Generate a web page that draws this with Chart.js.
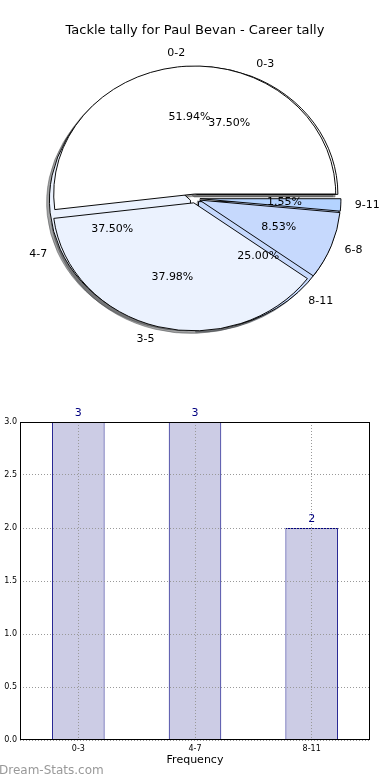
<!DOCTYPE html>
<html>
<head>
<meta charset="utf-8">
<script src="https://cdn.jsdelivr.net/npm/chart.js@4.4.1/dist/chart.umd.min.js"></script>
<style>
  body { margin: 0; background: #fff; width: 390px; height: 780px; position: relative; overflow: hidden; font-family: "DejaVu Sans", sans-serif; }
  #pie { position: absolute; left: 0; top: 0; }
  #bar { position: absolute; left: 0; top: 400px; }
  #title { position: absolute; left: 0; top: 21px; width: 390px; text-align: center; font-size: 13px; line-height: 18px; color: #000; }
  #mark { position: absolute; left: -1px; top: 762px; font-size: 12px; line-height: 16px; color: #999; }
</style>
</head>
<body>
<canvas id="pie" width="390" height="400"></canvas>
<canvas id="bar" width="390" height="380"></canvas>
<div id="title">Tackle tally for Paul Bevan - Career tally</div>
<div id="mark">Dream-Stats.com</div>
<script>
// tackle counts per game, fine bands
const tallyLabels = ["0-2", "3-5", "6-8", "9-11"];
const tallyValues = [67, 49, 11, 2];
// coarse bands
const bandLabels = ["0-3", "4-7", "8-11"];
const bandValues = [3, 3, 2];

const pieColors = ["#ffffff", "#ebf2fe", "#c6d9fd", "#b4d3ff"];
const yTicks = [0, 0.5, 1, 1.5, 2, 2.5, 3];

const SQUASH = 0.908;   // pie is drawn as an ellipse
const EXPLODE = 0.035;  // wedge offset, fraction of radius
const SHADOW = 0.02;    // shadow shift, fraction of radius

function shadowColor(hex) {
  const n = parseInt(hex.slice(1), 16);
  const r = Math.round(((n >> 16) & 255) * 0.3);
  const g = Math.round(((n >> 8) & 255) * 0.3);
  const b = Math.round((n & 255) * 0.3);
  return "rgba(" + r + "," + g + "," + b + ",0.5)";
}

function paintArc(ctx, arc, R, dx, dy, override) {
  const a = Object.create(arc);
  a.outerRadius = R;
  a.innerRadius = 0;
  if (override) a.options = Object.assign({}, arc.options, override);
  ctx.save();
  ctx.translate(dx, dy);
  a.draw(ctx);
  ctx.restore();
}

function explodeShift(arc, R) {
  const mid = (arc.startAngle + arc.endAngle) / 2;
  return [EXPLODE * R * Math.cos(mid), EXPLODE * R * Math.sin(mid)];
}

const pieDraw = {
  id: "pieDraw",
  beforeDatasetsDraw(chart) {
    const ctx = chart.ctx;
    const tally = chart.getDatasetMeta(0);
    const band = chart.getDatasetMeta(1);
    const first = tally.data[0];
    const R = first.outerRadius, cx = first.x, cy = first.y;
    ctx.save();
    ctx.translate(cx, cy);
    ctx.scale(1, SQUASH);
    ctx.translate(-cx, -cy);
    // all shadows go under all wedges
    [band, tally].forEach((meta) => {
      meta.data.forEach((arc) => {
        const [dx, dy] = explodeShift(arc, R);
        const c = shadowColor(arc.options.backgroundColor);
        paintArc(ctx, arc, R, dx - SHADOW * R, dy + SHADOW * R, { backgroundColor: c, borderColor: c });
      });
    });
    [band, tally].forEach((meta) => {
      meta.data.forEach((arc) => {
        const [dx, dy] = explodeShift(arc, R);
        paintArc(ctx, arc, R, dx, dy);
      });
    });
    ctx.restore();
    return false;
  },
  afterDraw(chart) {
    const ctx = chart.ctx;
    const first = chart.getDatasetMeta(0).data[0];
    const R = first.outerRadius, cx = first.x, cy = first.y;
    const sets = [
      { meta: chart.getDatasetMeta(0), labels: tallyLabels.slice().reverse() },
      { meta: chart.getDatasetMeta(1), labels: bandLabels.slice().reverse() },
    ];
    ctx.save();
    ctx.font = "11px 'DejaVu Sans'";
    ctx.fillStyle = "#000";
    ctx.textBaseline = "middle";
    sets.forEach((s) => {
      const total = s.meta.total;
      s.meta.data.forEach((arc, i) => {
        const mid = (arc.startAngle + arc.endAngle) / 2;
        const at = (d) => [
          cx + (EXPLODE + d) * R * Math.cos(mid),
          cy + (EXPLODE + d) * R * Math.sin(mid) * SQUASH,
        ];
        const [lx, ly] = at(1.1);
        ctx.textAlign = Math.cos(mid) > 0 ? "left" : "right";
        ctx.fillText(s.labels[i], lx, ly);
        const [px, py] = at(0.6);
        ctx.textAlign = "center";
        const v = chart.data.datasets[s.meta.index].data[i];
        ctx.fillText((v / total * 100).toFixed(2) + "%", px, py);
      });
    });
    ctx.restore();
  },
};

new Chart(document.getElementById("pie"), {
  type: "pie",
  data: {
    labels: tallyLabels.slice().reverse(),
    datasets: [
      {
        data: tallyValues.slice().reverse(),
        backgroundColor: pieColors.slice(0, 4).reverse(),
        borderColor: "#000",
        borderWidth: 1,
        borderJoinStyle: "miter",
      },
      {
        data: bandValues.slice().reverse(),
        backgroundColor: pieColors.slice(0, 3).reverse(),
        borderColor: "#000",
        borderWidth: 1,
        borderJoinStyle: "miter",
      },
    ],
  },
  options: {
    responsive: false,
    animation: false,
    events: [],
    rotation: 90,
    radius: 141,
    layout: { padding: { bottom: 3 } },
    plugins: { legend: { display: false }, tooltip: { enabled: false } },
  },
  plugins: [pieDraw],
});

const barExtras = {
  id: "barExtras",
  afterDraw(chart) {
    const ctx = chart.ctx;
    const { left, top, right, bottom } = chart.chartArea;
    ctx.save();
    ctx.strokeStyle = "#000";
    ctx.lineWidth = 1;
    ctx.strokeRect(left + 0.5, top + 0.5, right - left - 1, bottom - top - 1);
    ctx.font = "11px 'DejaVu Sans'";
    ctx.fillStyle = "#000080";
    ctx.textAlign = "center";
    ctx.textBaseline = "middle";
    chart.getDatasetMeta(0).data.forEach((bar, i) => {
      ctx.fillText(String(bandValues[i]), bar.x, bar.y - 8.5);
    });
    ctx.restore();
  },
};

new Chart(document.getElementById("bar"), {
  type: "bar",
  data: {
    labels: bandLabels,
    datasets: [
      {
        data: bandValues,
        backgroundColor: "#cccce5",
        borderColor: "#000080",
        borderWidth: 1,
        barPercentage: 0.45,
        categoryPercentage: 1,
      },
    ],
  },
  options: {
    responsive: false,
    animation: false,
    events: [],
    layout: { padding: { top: 22, right: 20, left: 0, bottom: 0 } },
    plugins: { legend: { display: false }, tooltip: { enabled: false } },
    scales: {
      x: {
        offset: true,
        grid: { z: 1, offset: false, color: "#999", lineWidth: 1, drawTicks: false },
        border: { display: false, dash: [1, 2] },
        ticks: { font: { family: "DejaVu Sans", size: 8 }, color: "#000", padding: 4 },
        title: {
          display: true,
          text: "Frequency",
          font: { family: "DejaVu Sans", size: 11 },
          color: "#000",
          padding: { top: 0, bottom: 13.4 },
        },
        afterFit: (s) => { s.height = 40; },
      },
      y: {
        min: 0,
        max: 3,
        grid: { z: 1, color: "#999", lineWidth: 1, drawTicks: false },
        border: { display: false, dash: [1, 2] },
        afterBuildTicks: (s) => { s.ticks = yTicks.map((v) => ({ value: v })); },
        ticks: {
          font: { family: "DejaVu Sans", size: 8 },
          color: "#000",
          padding: 3,
          callback: (v) => Number(v).toFixed(1),
        },
        afterFit: (s) => { s.width = 20; },
      },
    },
  },
  plugins: [barExtras],
});
</script>
</body>
</html>
